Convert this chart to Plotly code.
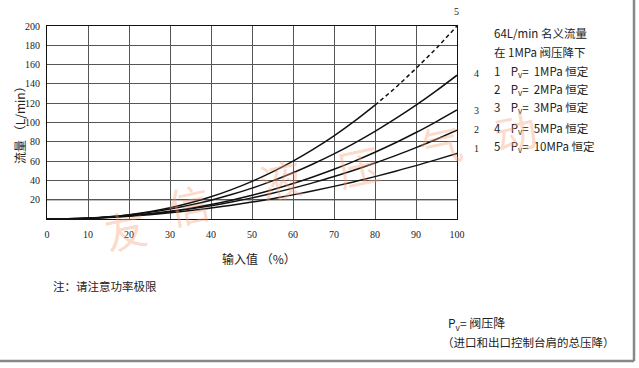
import plotly.graph_objects as go

# ---- data ----
x_input = [0, 5, 10, 15, 20, 25, 30, 35, 40, 45, 50, 55, 60, 65, 70, 75, 80, 85, 90, 95, 100]
flow_1 = [0, 0.2, 0.75, 1.65, 2.9, 4.5, 6.4, 8.7, 11.3, 14.2, 17.5, 21.1, 25, 29.2, 33.8, 38.7, 43.9, 49.5, 55.3, 61.5, 68]
flow_2 = [0, 0.2, 0.8, 1.8, 3.3, 5.2, 7.6, 10.5, 13.8, 17.6, 21.9, 26.7, 32, 37.7, 44, 50.7, 58, 65.7, 74, 82.7, 92]
flow_3 = [0, 0.15, 0.7, 1.7, 3.3, 5.4, 8, 11.2, 15, 19.5, 24.6, 30.3, 36.7, 43.8, 51.5, 60, 69.2, 79, 89.6, 101, 113]
flow_4 = [0, 0.19, 0.9, 2.2, 4.2, 6.9, 10.3, 14.5, 19.5, 25.3, 32, 39.5, 47.9, 57.3, 67.5, 78.7, 90.8, 103.9, 117.9, 133, 149]
flow_5 = [0, 0.17, 0.87, 2.3, 4.5, 7.6, 11.7, 16.8, 23, 30.4, 39, 48.8, 60, 72.4, 86.2, 101.4, 118, 136, 156, 177, 200]
dash_from = 80  # curve 5 is dashed beyond this input value

x_ticks = [0, 10, 20, 30, 40, 50, 60, 70, 80, 90, 100]
y_ticks = [20, 40, 60, 80, 100, 120, 140, 160, 180, 200]

curve_labels = ["1", "2", "3", "4", "5"]
legend_lines = [
    "64L/min 名义流量",
    "在 1MPa 阀压降下",
    "1    P<sub>v</sub>=  1MPa 恒定",
    "2    P<sub>v</sub>=  2MPa 恒定",
    "3    P<sub>v</sub>=  3MPa 恒定",
    "4    P<sub>v</sub>=  5MPa 恒定",
    "5    P<sub>v</sub>=  10MPa 恒定",
]
watermark = ["友", "信", "液", "压", "气", "动"]

CJK = "Noto Sans CJK SC"
SERIF = "Liberation Serif"

fig = go.Figure()
line_style = dict(color="#111111", width=1.5)
for ys in [flow_1, flow_2, flow_3, flow_4]:
    fig.add_trace(go.Scatter(x=x_input, y=ys, mode="lines", line=dict(**line_style, shape="spline"),
                             showlegend=False, hoverinfo="skip"))
solid_x = [v for v in x_input if v <= dash_from]
solid_y = [flow_5[i] for i, v in enumerate(x_input) if v <= dash_from]
dash_x = [v for v in x_input if v >= dash_from]
dash_y = [flow_5[i] for i, v in enumerate(x_input) if v >= dash_from]
fig.add_trace(go.Scatter(x=solid_x, y=solid_y, mode="lines", line=dict(**line_style, shape="spline"),
                         showlegend=False, hoverinfo="skip"))
fig.add_trace(go.Scatter(x=dash_x, y=dash_y, mode="lines",
                         line=dict(color="#111111", width=1.5, dash="4px,3px"),
                         showlegend=False, hoverinfo="skip"))

fig.update_layout(
    width=639, height=368,
    margin=dict(l=47, r=182, t=26, b=149, autoexpand=False),
    paper_bgcolor="white", plot_bgcolor="white",
    showlegend=False,
    xaxis=dict(range=[0, 100], tickvals=x_ticks, ticktext=[str(v) for v in x_ticks],
               showgrid=True, gridcolor="#555555", gridwidth=1,
               showline=True, linecolor="#111111", linewidth=1, mirror=True,
               zeroline=False, ticks="", ticklabelstandoff=6,
               tickfont=dict(family=SERIF, size=10, color="#222222")),
    yaxis=dict(range=[0, 200], tickvals=y_ticks, ticktext=[str(v) for v in y_ticks],
               showgrid=True, gridcolor="#555555", gridwidth=1,
               showline=True, linecolor="#111111", linewidth=1, mirror=True,
               zeroline=False, ticks="", ticklabelstandoff=4,
               tickfont=dict(family=SERIF, size=10, color="#222222")),
)

# Darker line at 20
fig.add_shape(type="line", xref="paper", yref="y", x0=0, x1=1, y0=20, y1=20,
              line=dict(color="#000000", width=1.2), layer="below")

# Frame lines (right & bottom, grey)
W, H = 410.0, 193.0
def px(xp):
    return (xp - 47) / W
def py(yp):
    return (219 - yp) / H
fig.add_shape(type="line", xref="paper", yref="paper", x0=px(634), x1=px(634), y0=py(0), y1=py(361),
              line=dict(color="#888888", width=2.5))
fig.add_shape(type="line", xref="paper", yref="paper", x0=px(0), x1=px(634), y0=py(361), y1=py(361),
              line=dict(color="#888888", width=2.5))

def ann(text, x, y, size, family=CJK, xanchor="center", angle=0, color="#222222"):
    return dict(text=text, x=px(x), y=py(y), xref="paper", yref="paper", showarrow=False,
                xanchor=xanchor, yanchor="middle", textangle=angle,
                font=dict(family=family, size=size, color=color))

anns = []
anns.append(ann("流量 （L/min）", 19, 122, 12, angle=-90))
anns.append(ann("输入值 （%）", 259, 258, 12))
anns.append(ann("注：请注意功率极限", 51, 286, 11.5, xanchor="left"))
label_pos = [(476, 148), (476, 129), (476, 110), (476, 73), (456, 12)]
for lab, (lx, ly) in zip(curve_labels, label_pos):
    anns.append(ann(lab, lx, ly, 10, family=SERIF))
legend_y = [33, 52, 71, 89, 108, 128, 146]
for txt, ly in zip(legend_lines, legend_y):
    anns.append(ann(txt, 492, ly, 11.5, xanchor="left"))
anns.append(ann("P<sub>v</sub>= 阀压降", 446, 323, 12, xanchor="left"))
anns.append(ann("（进口和出口控制台肩的总压降）", 440, 342, 11.5, xanchor="left"))
wm_pos = [(125, 228), (188, 203), (280, 178), (358, 165), (440, 143), (515, 130)]
for ch, (wx, wy) in zip(watermark, wm_pos):
    anns.append(ann(ch, wx, wy, 42, angle=-12, color="rgba(250,160,120,0.4)"))

fig.update_layout(annotations=anns)
fig.write_html("out.html", config={"displayModeBar": False},
               post_script="document.body.style.margin='0';")
